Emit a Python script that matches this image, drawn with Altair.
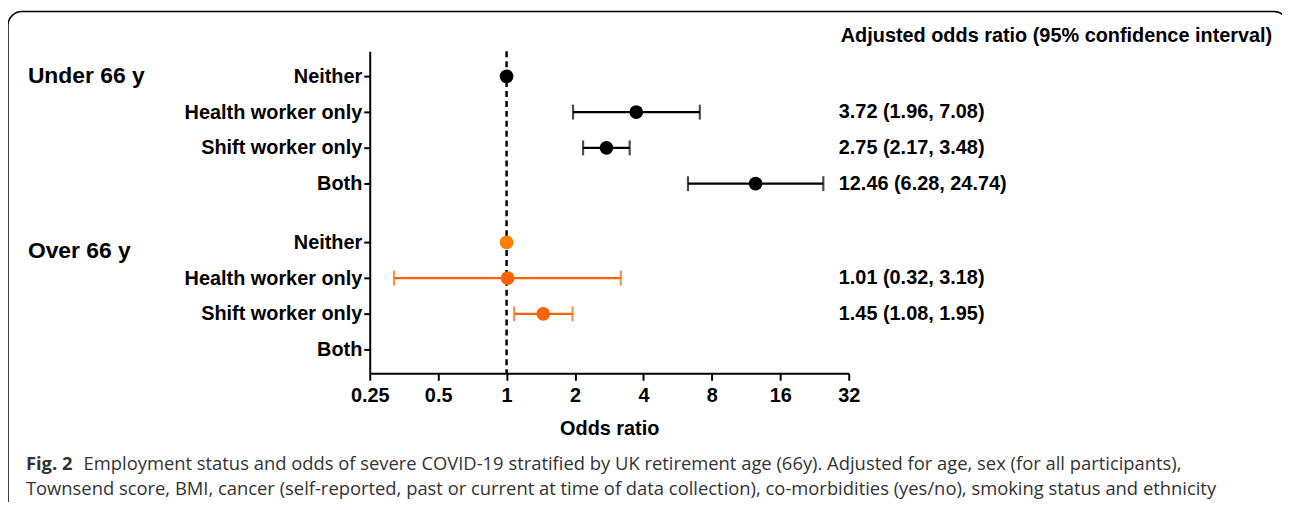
import altair as alt
import pandas as pd

# ---- data ----
groups = ["Under 66 y"] * 4 + ["Over 66 y"] * 4
categories = ["Neither", "Health worker only", "Shift worker only", "Both"] * 2
row_pos = [0, 1, 2, 3, 4.64, 5.64, 6.64, 7.64]
odds = [1.0, 3.72, 2.75, 12.46, 1.0, 1.01, 1.45, None]
ci_low = [None, 1.96, 2.17, 6.28, None, 0.32, 1.08, None]
ci_high = [None, 7.08, 3.48, 24.74, None, 3.18, 1.95, None]
labels = ["", "3.72 (1.96, 7.08)", "2.75 (2.17, 3.48)", "12.46 (6.28, 24.74)",
          "", "1.01 (0.32, 3.18)", "1.45 (1.08, 1.95)", ""]
colors = ["#000000", "#000000", "#000000", "#000000",
          "#FF8000", "#FF6200", "#FF6200", "#FF6200"]
x_ticks = [0.25, 0.5, 1, 2, 4, 8, 16, 32]
group_names = ["Under 66 y", "Over 66 y"]
group_pos = [0, 4.89]

df = pd.DataFrame({"group": groups, "cat": categories, "pos": row_pos, "odds": odds,
                   "lo": ci_low, "hi": ci_high, "label": labels, "color": colors})
df_pts = df.dropna(subset=["odds"])
df_ci = df.dropna(subset=["lo"])
df_lab = df[df["label"] != ""]
df_groups = pd.DataFrame({"name": group_names, "pos": group_pos})
one = pd.DataFrame({"v": [1]})

label_expr = " : ".join(
    [f"round(datum.value*100) == {round(p*100)} ? '{c}'" for p, c in zip(row_pos, categories)]
) + " : ''"

xscale = alt.Scale(type="log", base=2, domain=[0.25, 32], nice=False)
yscale = alt.Scale(domain=[-0.7, 8.3], reverse=True, nice=False, zero=False)

x_axis = alt.Axis(values=x_ticks, labelExpr="'' + datum.value", title="Odds ratio",
                  labelFontSize=20, labelFontWeight="bold", labelFont="Liberation Sans",
                  titleFontSize=20, titleFontWeight="bold", titleFont="Liberation Sans",
                  titlePadding=14, labelPadding=5, tickSize=7, tickWidth=2, domainWidth=2,
                  domainColor="black", tickColor="black", labelColor="black", grid=False,
                  labelFlush=False, labelOverlap=False)
y_axis = alt.Axis(values=row_pos, labelExpr=label_expr, title=None,
                  labelFontSize=20, labelFontWeight="bold", labelFont="Liberation Sans",
                  tickSize=6, tickWidth=2, domainWidth=2, domainColor="black",
                  tickColor="black", labelColor="black", grid=False, labelPadding=2)

frame = alt.Chart(one).mark_rect(fill=None, stroke="black", strokeWidth=1.5,
                                 cornerRadius=14, clip=False).encode(
    x=alt.value(-364), x2=alt.value(924), y=alt.value(-40), y2=alt.value(480))

base_axes = alt.Chart(df_pts).mark_point(opacity=0).encode(
    x=alt.X("odds:Q", scale=xscale, axis=x_axis),
    y=alt.Y("pos:Q", scale=yscale, axis=y_axis))

ref = alt.Chart(one).mark_rule(strokeDash=[6, 4], strokeWidth=2.5, color="black").encode(
    x=alt.datum(1, scale=xscale), y=alt.value(0), y2=alt.value(324))

ci = alt.Chart(df_ci).mark_rule(strokeWidth=2.2).encode(
    x=alt.X("lo:Q", scale=xscale), x2="hi:Q",
    y=alt.Y("pos:Q", scale=yscale), color=alt.Color("color:N", scale=None))
cap_lo = alt.Chart(df_ci).mark_tick(thickness=2.2, size=15, orient="vertical").encode(
    x=alt.X("lo:Q", scale=xscale), y=alt.Y("pos:Q", scale=yscale),
    color=alt.Color("color:N", scale=None))
cap_hi = alt.Chart(df_ci).mark_tick(thickness=2.2, size=15, orient="vertical").encode(
    x=alt.X("hi:Q", scale=xscale), y=alt.Y("pos:Q", scale=yscale),
    color=alt.Color("color:N", scale=None))
pts = alt.Chart(df_pts).mark_circle(size=190, opacity=1).encode(
    x=alt.X("odds:Q", scale=xscale), y=alt.Y("pos:Q", scale=yscale),
    color=alt.Color("color:N", scale=None))

ann = alt.Chart(df_lab).mark_text(align="left", baseline="middle", fontSize=20,
                                  fontWeight="bold", font="Liberation Sans",
                                  color="black", clip=False).encode(
    x=alt.value(472), y=alt.Y("pos:Q", scale=yscale), text="label:N")

ann_title = alt.Chart(one).mark_text(align="left", baseline="middle", fontSize=20,
                                     fontWeight="bold", font="Liberation Sans",
                                     color="black").encode(
    x=alt.value(474), y=alt.value(-15), text=alt.value("Adjusted odds ratio (95% confidence interval)"))

grp = alt.Chart(df_groups).mark_text(align="left", baseline="middle", fontSize=23,
                                     fontWeight="bold", font="Liberation Sans",
                                     color="black").encode(
    x=alt.value(-344), y=alt.Y("pos:Q", scale=yscale), text="name:N")

cap_bold = alt.Chart(one).mark_text(align="left", baseline="middle", fontSize=18.5,
                                    fontWeight="bold", font="Open Sans", color="#333333").encode(
    x=alt.value(-346), y=alt.value(415), text=alt.value("Fig. 2"))
cap1 = alt.Chart(one).mark_text(align="left", baseline="middle", fontSize=18.5,
                                font="Open Sans", color="#333333").encode(
    x=alt.value(-288), y=alt.value(415),
    text=alt.value("Employment status and odds of severe COVID-19 stratified by UK retirement age (66y). Adjusted for age, sex (for all participants),"))
cap2 = alt.Chart(one).mark_text(align="left", baseline="middle", fontSize=18.5,
                                font="Open Sans", color="#333333").encode(
    x=alt.value(-346), y=alt.value(441),
    text=alt.value("Townsend score, BMI, cancer (self-reported, past or current at time of data collection), co-morbidities (yes/no), smoking status and ethnicity"))

chart = alt.layer(frame, base_axes, ref, ci, cap_lo, cap_hi, pts, ann, ann_title, grp,
                  cap_bold, cap1, cap2).properties(
    width=482, height=324,
    background="white",
    autosize=alt.AutoSizeParams(type="none"),
    padding={"left": 364, "top": 42, "right": 436, "bottom": 128},
).configure_view(stroke=None, strokeWidth=0)

chart.save("out.html", embed_options={"renderer": "svg", "actions": False})
